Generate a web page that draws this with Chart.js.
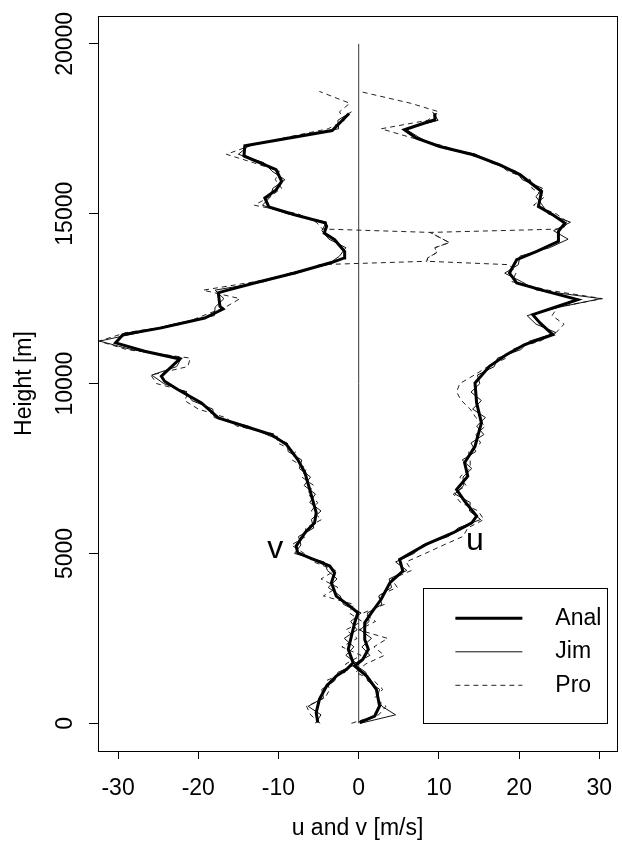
<!DOCTYPE html>
<html>
<head>
<meta charset="utf-8">
<script src="https://cdn.jsdelivr.net/npm/chart.js@4/dist/chart.umd.min.js"></script>
<style>
  html, body { margin: 0; padding: 0; background: #fff; }
  #wrap { width: 622px; height: 842px; }
</style>
</head>
<body>
<div id="wrap"><canvas id="chart" width="622" height="842"></canvas></div>
<script>
const FONT = "'Liberation Sans', Arial, Helvetica, sans-serif";

const X_TICKS = [-30, -20, -10, 0, 10, 20, 30];
const Y_TICKS = [0, 5000, 10000, 15000, 20000];
const LEGEND_NAMES = ["Anal", "Jim", "Pro"];

/* ── Anal (thick) profiles ── */
const ANAL_U_H = [20, 215, 510, 1000, 1390, 1685, 1880, 2180, 2470, 2960, 3255, 3650, 4140, 4480, 4825,
  5265, 5610, 5900, 6100, 6540, 6880, 7275, 7670, 8155, 8845, 9430, 10020, 10510, 10850, 11150,
  11440, 11785, 12030, 12225, 12470, 12715, 12960, 13255, 13650, 13890, 14185, 14480, 14725, 14970, 15215,
  15655, 16150, 16440, 16735, 16980, 17225, 17470, 17670, 17765, 17960];
const ANAL_U = [0.1, 2.0, 2.6, 2.2, 1.0, -0.5, 0.5, 1.2, 0.75, 0.75, 1.6, 2.8, 3.9, 5.5, 5.1,
  8.4, 11.8, 14.1, 14.7, 13.2, 12.2, 13.6, 13.2, 14.5, 15.3, 14.7, 14.5, 16.3, 18.4, 20.7,
  24.2, 22.6, 21.7, 24.2, 27.3, 23.4, 19.7, 18.8, 19.7, 22.2, 24.9, 24.9, 25.7, 24.2, 22.4,
  22.8, 20.1, 17.6, 14.3, 10.1, 7.2, 5.7, 8.2, 9.5, 9.5];

const ANAL_V_H = [20, 315, 705, 1100, 1390, 1590, 1785, 2180, 2570, 2960, 3255, 3450, 3745, 4140, 4430,
  4630, 4870, 5020, 5215, 5610, 5900, 6200, 6880, 7375, 7765, 8205, 8500, 8745, 8990, 9430,
  9820, 10070, 10215, 10725, 10950, 11200, 11440, 11640, 11930, 12195, 12275, 12670, 12715, 12960, 13255,
  13570, 13700, 13890, 14235, 14430, 14630, 14730, 14970, 15200, 15460, 15700, 15950, 16300, 16700, 17000,
  17450, 17950];
const ANAL_V = [-5.1, -5.3, -4.9, -4.0, -2.8, -1.5, -0.7, -1.3, -0.9, -0.5, -0.1, -1.1, -2.8, -3.4, -3.0,
  -3.6, -6.1, -7.6, -7.8, -6.7, -5.5, -5.3, -6.1, -6.7, -7.6, -9.0, -10.9, -14.2, -17.5, -19.6,
  -22.5, -24.2, -24.6, -22.3, -26.7, -30.3, -29.4, -24.6, -19.2, -16.9, -17.3, -17.5, -16.9, -13.0, -8.0,
  -3.3, -1.8, -1.75, -3.0, -4.3, -4.0, -4.2, -8.0, -11.2, -11.7, -10.3, -9.6, -10.3, -14.3, -14.2,
  -3.3, -1.2];

/* ── Jim (thin) profiles ── */
const JIM_H = [0, 250, 500, 750, 1000, 1250, 1500, 1750, 2000, 2250, 2500, 2750, 3000, 3250, 3500, 3750,
  4000, 4250, 4500, 4750, 5000, 5250, 5500, 5750, 6000, 6250, 6500, 6750, 7000, 7250, 7500, 7750,
  8000, 8250, 8500, 8750, 9000, 9250, 9500, 9750, 10000, 10250, 10500, 10750, 11000, 11250, 11500, 11750,
  12000, 12250, 12500, 12750, 13000, 13250, 13500, 13750, 14000, 14250, 14500, 14750, 15000, 15250, 15500, 15750,
  16000, 16250, 16500, 16750, 17000, 17250, 17500, 17750, 18000];
const JIM_U = [0.2, 4.6, 2.9, 2.3, 2.6, 1.1, 0.9, -0.6,
  1.4, 0.4, 1.6, 0.2, 1.3, 1.1, 2.9, 2.5,
  4.1, 3.8, 6.0, 4.6, 6.9, 8.0, 11.2, 12.4,
  15.2, 13.8, 13.9, 12.0, 13.1, 13.0, 14.1, 12.9,
  14.6, 14.0, 15.6, 14.7, 15.8, 14.2, 15.3, 14.0,
  15.1, 14.8, 16.9, 17.3, 20.2, 21.3, 24.6, 22.1,
  21.0, 25.0, 30.2, 22.2, 20.3, 18.2, 19.9, 20.1,
  23.8, 26.1, 24.3, 26.4, 23.6, 22.9, 22.1, 22.9,
  20.4, 19.6, 16.5, 14.6, 9.5, 7.5, 5.8, 9.9,
  9.2];
const JIM_V = [-5.4, -4.7, -6.3, -4.4, -4.6, -3.0, -2.6, -0.2,
  -1.6, -0.6, -1.8, -0.2, -1.0, 0.3, -1.9, -2.3,
  -3.8, -2.7, -3.9, -4.3, -8.0, -7.2, -7.5, -5.6,
  -5.9, -4.7, -6.1, -5.4, -6.8, -6.0, -7.4, -7.1,
  -8.8, -8.9, -11.5, -13.8, -18.0, -18.2, -20.8, -21.5,
  -24.3, -25.8, -22.7, -22.1, -28.3, -32.3, -27.4, -23.1,
  -18.0, -17.9, -16.8, -17.9, -11.8, -8.6, -3.9, -2.4,
  -1.6, -3.7, -4.6, -4.0, -8.9, -12.0, -11.0, -10.7,
  -9.2, -10.8, -11.8, -15.0, -13.7, -8.7, -2.5, -2.6,
  -0.9];

/* ── Pro (dashed) profiles ── */
const PRO_H = [0, 250, 500, 750, 1000, 1250, 1500, 1750, 2000, 2250, 2500, 2750, 3000, 3250, 3500, 3750,
  4000, 4250, 4500, 4750, 5000, 5250, 5500, 5750, 6000, 6250, 6500, 6750, 7000, 7250, 7500, 7750,
  8000, 8250, 8500, 8750, 9000, 9250, 9500, 9750, 10000, 10250, 10500, 10750, 11000, 11250, 11500, 11750,
  12000, 12250, 12500, 12750, 13000, 13250, 13500,
  13600, 13700, 13850, 14000, 14150, 14450, 14550,
  14750, 15000, 15250, 15500, 15750, 16000, 16250, 16500, 16750, 17000, 17250, 17500, 17750, 18000,
  18250, 18600];
const PRO_U = [-0.9, 2.5, 3.4, 2.0, 3.0, 1.9, -0.4, 0.9,
  3.2, 1.9, 3.6, 0.0, 2.1, 0.6, 3.2, 2.4,
  4.8, 4.1, 6.6, 5.9, 8.3, 10.6, 13.0, 13.6,
  15.6, 14.9, 12.7, 11.8, 13.4, 12.6, 13.9, 13.9,
  13.7, 15.2, 14.6, 15.8, 14.6, 13.9, 12.8, 12.2,
  12.6, 14.4, 16.1, 18.4, 19.0, 22.6, 24.6, 25.6,
  24.1, 24.8, 30.4, 23.6, 19.1, 19.6, 18.8,
  8.5, 8.6, 9.7, 9.5, 11.3, 8.9, 25.4,
  26.1, 24.6, 21.8, 23.2, 21.6, 21.4, 18.6, 17.2, 13.6, 10.5, 6.4, 2.8, 8.6, 10.0,
  6.5, 0.1];
const PRO_V = [-4.8, -6.0, -6.5, -4.2, -3.6, -4.1, -1.7, -1.6,
  0.3, -2.1, -0.2, -1.6, 0.4, -1.2, -0.6, -4.4,
  -2.6, -4.7, -2.9, -5.6, -6.8, -8.4, -6.6, -6.6,
  -4.6, -5.9, -5.1, -6.4, -5.6, -7.1, -6.5, -8.3,
  -7.9, -10.1, -10.2, -15.2, -16.6, -20.0, -21.7, -21.2,
  -25.2, -25.9, -21.3, -21.0, -28.9, -32.4, -29.0, -22.0,
  -19.4, -16.6, -14.8, -19.4, -12.9, -7.5, -4.9,
  8.5, 8.6, 9.7, 9.5, 11.3, 8.9, -4.5,
  -5.3, -7.6, -13.0, -11.1, -9.6, -10.4, -9.9, -13.1, -16.5, -13.5, -9.0, -3.8, -1.8, -2.4,
  -1.1, -4.9];

/* ── reference line at zero ── */
const ZERO_X = [0, 0];
const ZERO_H = [0, 20000];

const STYLE = {
  Anal: { borderColor: "#000", borderWidth: 3, borderDash: [] },
  Jim: { borderColor: "#111", borderWidth: 1, borderDash: [] },
  Pro: { borderColor: "#222", borderWidth: 1, borderDash: [5, 4] },
};

const pts = (xs, hs) => hs.map((h, i) => ({ x: xs[i], y: h }));
const series = (label, xs, hs) => ({
  label,
  data: pts(xs, hs),
  ...STYLE[label],
  pointRadius: 0,
  showLine: true,
  tension: 0,
  fill: false,
});

/* ── box, rotated y labels, u/v tags, legend ── */
const decor = {
  id: "decor",
  afterDraw(chart) {
    const { ctx, chartArea: a, scales: { x, y } } = chart;
    ctx.save();
    ctx.fillStyle = "#000";
    ctx.strokeStyle = "#000";
    ctx.lineWidth = 1;
    ctx.setLineDash([]);
    ctx.strokeRect(a.left + 0.5, a.top + 0.5, a.right - a.left, a.bottom - a.top);

    ctx.font = "23px " + FONT;
    ctx.textAlign = "center";
    ctx.textBaseline = "alphabetic";
    Y_TICKS.forEach((v) => {
      ctx.save();
      ctx.translate(a.left - 26, y.getPixelForValue(v));
      ctx.rotate(-Math.PI / 2);
      ctx.fillText(String(v), 0, 0);
      ctx.restore();
    });

    ctx.font = "32px " + FONT;
    [["v", -10.4, 5120], ["u", 14.5, 5350]].forEach(([t, vx, vy]) => {
      ctx.fillText(t, x.getPixelForValue(vx), y.getPixelForValue(vy) + 8.3);
    });

    const bw = 184, bh = 135;
    const bx = x.getPixelForValue(31) - bw;
    const by = y.getPixelForValue(0) - bh;
    ctx.strokeRect(Math.round(bx) + 0.5, Math.round(by) + 0.5, bw, bh);
    ctx.font = "23px " + FONT;
    ctx.textAlign = "left";
    ctx.textBaseline = "middle";
    LEGEND_NAMES.forEach((name, i) => {
      const s = STYLE[name];
      const ly = by + 30 + i * 33.5;
      ctx.beginPath();
      ctx.lineWidth = s.borderWidth;
      ctx.strokeStyle = s.borderColor;
      ctx.setLineDash(s.borderDash);
      ctx.moveTo(bx + 32, ly);
      ctx.lineTo(bx + 99, ly);
      ctx.stroke();
      ctx.fillText(name, bx + 132, ly);
    });
    ctx.restore();
  },
};

new Chart(document.getElementById("chart"), {
  type: "scatter",
  data: {
    datasets: [
      series("Anal", ANAL_U, ANAL_U_H),
      series("Anal", ANAL_V, ANAL_V_H),
      series("Jim", JIM_U, JIM_H),
      series("Jim", JIM_V, JIM_H),
      series("Pro", PRO_U, PRO_H),
      series("Pro", PRO_V, PRO_H),
      { label: "zero", data: pts(ZERO_X, ZERO_H), borderColor: "#333", borderWidth: 1, pointRadius: 0, showLine: true },
    ],
  },
  options: {
    responsive: false,
    animation: false,
    devicePixelRatio: 1,
    layout: { padding: { top: 16, right: 5, left: 0, bottom: 0 } },
    plugins: { legend: { display: false }, tooltip: { enabled: false } },
    scales: {
      x: {
        type: "linear",
        min: -32.5,
        max: 32.2,
        afterFit: (s) => { s.height = 91; s.paddingLeft = 0; s.paddingRight = 0; },
        afterBuildTicks: (s) => { s.ticks = X_TICKS.map((v) => ({ value: v })); },
        grid: { display: true, drawOnChartArea: false, drawTicks: true, tickLength: 8, tickColor: "#000", tickWidth: 1 },
        border: { display: false },
        ticks: { color: "#000", font: { family: FONT, size: 23 }, padding: 16, maxRotation: 0, autoSkip: false, callback: (v) => String(v) },
        title: { display: true, text: "u and v [m/s]", color: "#000", font: { family: FONT, size: 23 }, padding: { top: 0, bottom: 0 } },
      },
      y: {
        type: "linear",
        min: -815,
        max: 20820,
        afterFit: (s) => { s.width = 98; s.paddingTop = 0; s.paddingBottom = 0; },
        afterBuildTicks: (s) => { s.ticks = Y_TICKS.map((v) => ({ value: v })); },
        grid: { display: true, drawOnChartArea: false, drawTicks: true, tickLength: 9, tickColor: "#000", tickWidth: 1 },
        border: { display: false },
        ticks: { display: false },
        title: { display: true, text: "Height [m]", color: "#000", font: { family: FONT, size: 23 }, padding: { top: 11, bottom: 0 } },
      },
    },
  },
  plugins: [decor],
});
</script>
</body>
</html>
